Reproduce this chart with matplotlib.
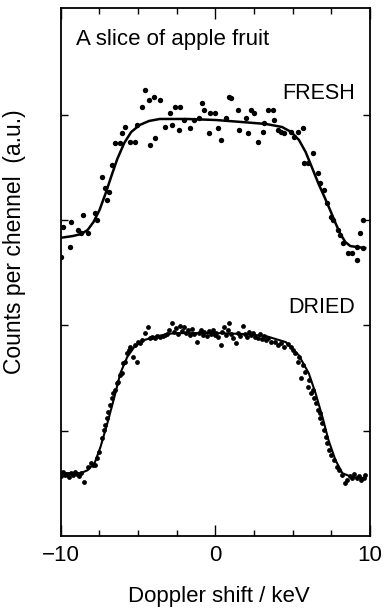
#!/bin/env python3

import matplotlib
matplotlib.use('Agg')
from matplotlib import pyplot as plt

plt.rcParams['font.family'] = ['Liberation Sans', 'DejaVu Sans']

# fresh sample, measured points (keV, a.u.)
freshX = [-10.0, -9.87, -9.36, -9.42, -8.91, -8.59, -8.72, -8.27, -7.76, -7.63,
          -7.31, -7.12, -6.99, -6.86, -6.67, -6.47, -6.15, -6.03, -5.83, -5.51,
          -5.19, -5.06, -4.74, -4.55, -4.29, -3.97, -3.59, -4.23, -3.91, -3.27,
          -2.95, -2.82, -2.63, -2.31, -2.37, -2.05, -1.67, -1.41, -1.09, -0.90,
          -0.71, -0.38, -0.06, -0.45, 0.38, 0.19, 0.71, 0.90, 1.03, 1.47,
          1.54, 1.99, 2.12, 2.31, 2.50, 2.76, 3.08, 3.14, 3.40, 3.72,
          3.78, 4.04, 4.23, 4.42, 4.87, 5.06, 5.32, 5.64, 5.71, 5.96,
          6.28, 6.60, 6.79, 6.99, 7.24, 7.44, 7.63, 7.95, 8.08, 8.27,
          8.59, 8.85, 9.17, 9.17, 9.36, 9.55, 9.55]
freshY = [279, 309, 314, 289, 306, 321, 303, 303, 323, 316,
          359, 348, 336, 344, 371, 393, 393, 403, 409, 394,
          394, 411, 429, 446, 436, 439, 436, 391, 398, 409,
          423, 411, 429, 429, 406, 416, 408, 416, 418, 433,
          426, 423, 423, 403, 396, 408, 418, 439, 438, 426,
          406, 418, 403, 426, 423, 394, 404, 413, 426, 426,
          416, 406, 404, 403, 404, 399, 404, 408, 373, 373,
          383, 363, 353, 346, 333, 319, 316, 306, 301, 293,
          283, 283, 276, 289, 303, 316, 288]

# fresh sample, fitted curve
freshFitX = [-10.13, -9.23, -8.7, -8.27, -7.89, -7.5, -7.12, -6.73, -6.35, -5.9,
             -5.45, -4.9, -4.3, -3.6, -1.86, 0.0, 1.67, 3.27, 4.3, 4.9,
             5.4, 5.83, 6.28, 6.67, 7.05, 7.44, 7.76, 8.08, 8.4, 8.72,
             9.17, 9.68]
freshFitY = [298, 300, 302, 306, 314, 326, 342, 360, 377, 393,
             404, 411, 415, 417, 417, 416, 414, 412, 409, 404,
             396, 384, 367, 352, 339, 325, 313, 302, 294, 290,
             289, 288]

# dried sample, measured points
driedX = [-10.13, -10.0, -9.87, -9.74, -9.62, -9.49, -9.36, -9.23, -9.10, -8.97,
          -8.85, -8.72, -8.53, -8.27, -8.08, -7.95, -7.76, -7.63, -7.5, -7.31,
          -7.18, -7.12, -6.99, -6.92, -6.79, -6.67, -6.6, -6.47, -6.35, -6.28,
          -6.15, -6.03, -5.96, -5.83, -5.71, -5.58, -5.51, -5.32, -5.19, -5.06,
          -5.0, -4.87, -4.74, -4.55, -4.36, -4.23, -4.10, -3.91, -3.78, -3.59,
          -3.40, -3.27, -3.14, -3.01, -2.82, -2.69, -2.56, -2.44, -2.31, -2.18,
          -2.05, -1.92, -1.79, -1.67, -1.54, -1.41, -1.22, -1.09, -0.96, -0.83,
          -0.71, -0.58, -0.45, -0.32, -0.19, -0.06, 0.06, 0.19, 0.38, 0.45,
          0.58, 0.71, 0.83, 0.90, 1.03, 1.15, 1.35, 1.47, 1.60, 1.79,
          1.92, 2.05, 2.18, 2.31, 2.44, 2.56, 2.76, 2.88, 3.01, 3.14,
          3.27, 3.40, 3.59, 3.85, 4.04, 4.23, 4.42, 4.68, 4.87, 5.0,
          5.13, 5.32, 5.38, 5.51, 5.64, 5.77, 5.96, 6.03, 6.15, 6.28,
          6.35, 6.47, 6.6, 6.73, 6.79, 6.92, 6.99, 7.12, 7.24, 7.37,
          7.5, 7.69, 7.88, 8.01, 8.21, 8.40, 8.53, 8.72, 8.85, 8.97,
          9.17, 9.29, 9.42, 9.62, 9.68]
driedY = [63, 60, 64, 61, 62, 59, 63, 61, 64, 62,
          60, 63, 54, 69, 73, 71, 71, 78, 84, 98,
          106, 111, 118, 124, 131, 138, 143, 146, 153, 154,
          161, 163, 173, 174, 183, 186, 189, 179, 191, 174,
          194, 193, 196, 203, 209, 198, 199, 198, 200, 199,
          200, 201, 202, 206, 213, 204, 208, 202, 210, 205,
          209, 203, 206, 201, 207, 202, 194, 203, 206, 201,
          204, 200, 205, 202, 206, 201, 203, 199, 191, 204,
          209, 201, 206, 213, 202, 198, 193, 203, 200, 210,
          202, 199, 204, 201, 203, 199, 198, 202, 197, 200,
          196, 198, 194, 194, 191, 193, 189, 192, 189, 186,
          183, 174, 179, 158, 171, 164, 149, 156, 143, 146,
          138, 133, 126, 123, 118, 113, 106, 99, 93, 86,
          81, 76, 69, 66, 61, 53, 56, 60, 58, 62,
          58, 60, 56, 58, 61]

# dried sample, fitted curve
driedFitX = [-10.08, -8.72, -8.27, -7.82, -7.44, -6.99, -6.54, -6.15, -5.71, -5.26,
             -4.62, -3.78, -2.69, -1.22, 0.26, 1.99, 3.27, 4.55, 5.38, 6.03,
             6.47, 6.92, 7.31, 7.76, 8.21, 8.85, 9.68]
driedFitY = [63, 63, 66, 73, 89, 113, 139, 163, 179, 189,
             196, 200, 203, 203, 203, 202, 200, 194, 181, 163,
             143, 119, 96, 76, 63, 59, 58]

yTicks = [105, 211, 316, 421]

fig = plt.figure(figsize=(3.9, 6.08), dpi=100)
ax = fig.add_axes([0.156, 0.118, 0.793, 0.869])

ax.scatter(freshX, freshY, s=15, color='black', linewidths=0, zorder=3)
ax.plot(freshFitX, freshFitY, color='black', linewidth=1.8, zorder=2)
ax.scatter(driedX, driedY, s=12, color='black', linewidths=0, zorder=3)
ax.plot(driedFitX, driedFitY, color='black', linewidth=1.5, zorder=2)

ax.set_xlim(-10, 10)
ax.set_ylim(0, 528)

ax.set_xticks([-10, 0, 10])
ax.set_xticklabels(['\u221210', '0', '10'])
ax.set_xticks([-7.5, -5, -2.5, 2.5, 5, 7.5], minor=True)
ax.set_yticks(yTicks)
ax.set_yticklabels([])
ax.tick_params(which='both', direction='in', top=True, right=True, width=1.0)
ax.tick_params(which='major', length=8, labelsize=16, pad=6)
ax.tick_params(axis='y', which='major', length=5)
ax.tick_params(which='minor', length=4)
for spine in ax.spines.values():
    spine.set_linewidth(1.3)

ax.text(0.05, 0.930, 'A slice of apple fruit', transform=ax.transAxes,
        fontsize=16, ha='left', va='baseline')
ax.text(0.951, 0.828, 'FRESH', transform=ax.transAxes,
        fontsize=15.5, ha='right', va='baseline')
ax.text(0.951, 0.422, 'DRIED', transform=ax.transAxes,
        fontsize=15.5, ha='right', va='baseline')

ax.set_xlabel('Doppler shift / keV', fontsize=16)
ax.xaxis.set_label_coords(0.51, -0.095)
ax.set_ylabel('Counts per chennel  (a.u.)', fontsize=16.5)
ax.yaxis.set_label_coords(-0.113, 0.557)

plt.savefig('out.png', dpi=100)
